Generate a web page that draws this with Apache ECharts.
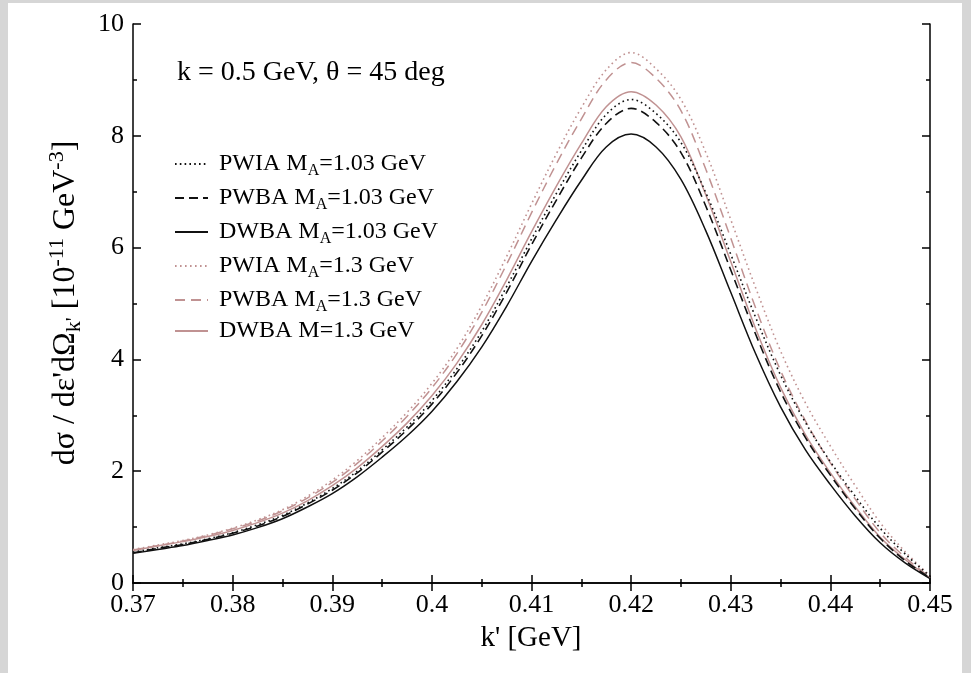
<!DOCTYPE html>
<html>
<head>
<meta charset="utf-8">
<script src="https://cdn.jsdelivr.net/npm/echarts@6/dist/echarts.min.js"></script>
<style>
html,body{margin:0;padding:0;width:971px;height:673px;background:#d6d6d6;overflow:hidden;}
#paper{position:absolute;left:8px;top:3px;width:954px;height:670px;background:#ffffff;}
#chart{position:absolute;left:0;top:0;width:971px;height:673px;}
</style>
</head>
<body>
<div id="paper"></div>
<div id="chart"></div>
<script>
// k' [GeV]
const kPrime = [0.37,0.3725,0.375,0.3775,0.38,0.3825,0.385,0.3875,0.39,0.3925,0.395,0.3975,0.40,0.4025,0.405,0.4075,0.41,0.4125,0.415,0.4175,0.42,0.4225,0.425,0.4275,0.43,0.4325,0.435,0.4375,0.44,0.4425,0.445,0.4475,0.45];
// cross sections [10^-11 GeV^-3]
const pwia103 = [0.55,0.63,0.70,0.79,0.90,1.04,1.21,1.43,1.69,2.00,2.38,2.79,3.26,3.83,4.50,5.30,6.15,6.97,7.73,8.38,8.65,8.40,7.88,6.98,5.88,4.75,3.72,2.87,2.17,1.55,0.98,0.52,0.12];
const pwba103 = [0.54,0.62,0.69,0.78,0.89,1.02,1.19,1.41,1.66,1.97,2.34,2.74,3.20,3.76,4.42,5.20,6.05,6.85,7.60,8.22,8.49,8.24,7.70,6.74,5.60,4.45,3.42,2.60,1.93,1.33,0.80,0.40,0.09];
const dwba103 = [0.53,0.60,0.67,0.76,0.86,0.99,1.15,1.36,1.60,1.90,2.25,2.63,3.07,3.60,4.22,4.95,5.75,6.50,7.20,7.80,8.03,7.80,7.22,6.30,5.20,4.10,3.15,2.38,1.76,1.20,0.72,0.36,0.08];
const pwia13  = [0.60,0.68,0.76,0.86,0.98,1.13,1.31,1.55,1.84,2.19,2.60,3.05,3.57,4.19,4.96,5.84,6.78,7.68,8.50,9.18,9.49,9.20,8.65,7.70,6.50,5.28,4.15,3.22,2.45,1.74,1.08,0.56,0.13];
const pwba13  = [0.59,0.67,0.75,0.85,0.97,1.11,1.29,1.52,1.80,2.14,2.54,2.98,3.49,4.10,4.84,5.70,6.62,7.50,8.30,9.00,9.31,9.03,8.45,7.40,6.17,4.92,3.80,2.90,2.15,1.50,0.90,0.46,0.10];
const dwba13  = [0.58,0.66,0.74,0.83,0.94,1.08,1.25,1.47,1.74,2.06,2.44,2.86,3.35,3.93,4.62,5.42,6.28,7.10,7.86,8.52,8.79,8.55,7.98,6.94,5.75,4.55,3.50,2.65,1.97,1.36,0.82,0.42,0.09];

const seriesNames = ['PWIA M_A=1.03 GeV','PWBA M_A=1.03 GeV','DWBA M_A=1.03 GeV','PWIA M_A=1.3 GeV','PWBA M_A=1.3 GeV','DWBA M=1.3 GeV'];
const seriesData = [pwia103,pwba103,dwba103,pwia13,pwba13,dwba13];

const xTicks = {min:0.37,max:0.45,interval:0.01,minor:0.005};
const yTicks = {min:0,max:10,interval:2,minor:1};

const BLACK = '#111111';
const PINK = '#c09292';
const styles = [
  {color:BLACK,type:[1.6,3.2],width:1.6},
  {color:BLACK,type:[9,5],width:1.6},
  {color:BLACK,type:'solid',width:1.5},
  {color:PINK,type:[1.6,3.4],width:1.6},
  {color:PINK,type:[10,6],width:1.5},
  {color:PINK,type:'solid',width:1.5}
];
const FONT = 'Liberation Serif';

const chart = echarts.init(document.getElementById('chart'), null, {renderer:'canvas'});

function ax(t, pos, labels, minor){
  return {type:'value',position:pos,min:t.min,max:t.max,interval:minor?t.minor:t.interval,
    axisLine:{show:!minor,lineStyle:{color:'#000',width:1.5}},
    axisTick:{show:true,inside:true,length:minor?4:8,lineStyle:{color:'#000',width:1.5}},
    splitLine:{show:false},
    axisLabel:{show:labels,margin:9,color:'#000',fontFamily:FONT,fontSize:26,
      formatter:v=>String(parseFloat(v.toFixed(3)))}
  };
}

const legendRich = {
  a:{fontFamily:FONT,fontSize:24,color:'#000',lineHeight:24},
  s:{fontFamily:FONT,fontSize:16,color:'#000',lineHeight:16,padding:[14,0,0,0]}
};
function legendFmt(name){
  const i = name.indexOf('_A');
  if(i<0) return '{a|'+name+'}';
  return '{a|'+name.slice(0,i)+'}{s|A}{a|'+name.slice(i+2)+'}';
}

const option = {
  animation:false,
  grid:{left:133,right:41,top:24,bottom:90,containLabel:false},
  xAxis:[ax(xTicks,'bottom',true,false),ax(xTicks,'top',false,false),ax(xTicks,'bottom',false,true),ax(xTicks,'top',false,true)],
  yAxis:[ax(yTicks,'left',true,false),ax(yTicks,'right',false,false),ax(yTicks,'left',false,true),ax(yTicks,'right',false,true)],
  legend:{
    show:true,orient:'vertical',left:169,top:144,itemWidth:33,itemHeight:12,itemGap:4,
    selectedMode:false,
    data:seriesNames,
    itemStyle:{opacity:0},
    formatter:legendFmt,
    textStyle:{rich:legendRich,padding:[0,0,0,6]}
  },
  series:seriesNames.map((n,i)=>({
    name:n,type:'line',xAxisIndex:0,yAxisIndex:0,
    data:kPrime.map((x,j)=>[x,seriesData[i][j]]),
    showSymbol:false,symbol:'none',smooth:0.35,
    lineStyle:{color:styles[i].color,type:styles[i].type,width:styles[i].width},
    itemStyle:{color:styles[i].color},
    z:10-i
  })),
  graphic:[
    {type:'text',left:177,top:59,style:{text:'k = 0.5 GeV, θ = 45 deg',font:'28px "Liberation Serif"',fill:'#000'}},
    {type:'text',x:531,y:638,style:{text:"k' [GeV]",font:'29px "Liberation Serif"',fill:'#000',align:'center',verticalAlign:'middle'}},
    {type:'text',x:66,y:303,rotation:Math.PI/2,
      style:{
        text:"{a|dσ / dε'dΩ}{s|k'}{a| [10}{p|-11}{a| GeV}{p|-3}{a|]}",
        align:'center',verticalAlign:'middle',
        rich:{
          a:{fontFamily:FONT,fontSize:32,lineHeight:32,fill:'#000'},
          s:{fontFamily:FONT,fontSize:22,lineHeight:22,padding:[17,0,0,0],fill:'#000'},
          p:{fontFamily:FONT,fontSize:22,lineHeight:22,padding:[0,0,17,0],fill:'#000'}
        }
      }}
  ]
};
chart.setOption(option);
</script>
</body>
</html>
